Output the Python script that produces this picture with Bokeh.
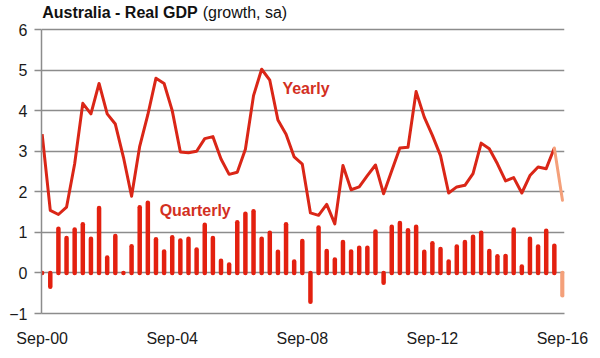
from bokeh.plotting import figure
from bokeh.models import Range1d, FixedTicker, Label, ColumnDataSource
from bokeh.embed import file_html
from bokeh.resources import INLINE

# ---- data (Sep-00 .. Sep-16, quarterly) ----
tick_labels = ["Sep-00", "Sep-04", "Sep-08", "Sep-12", "Sep-16"]
tick_positions = [0, 16, 32, 48, 64]

yearly = [3.42, 1.54, 1.44, 1.62, 2.69, 4.18, 3.92, 4.67, 3.92, 3.67, 2.85, 1.89, 3.12,
          3.90, 4.80, 4.67, 4.00, 2.98, 2.96, 3.00, 3.31, 3.36, 2.81, 2.43, 2.48, 3.05,
          4.37, 5.02, 4.75, 3.77, 3.42, 2.86, 2.68, 1.48, 1.42, 1.69, 1.21, 2.65, 2.05,
          2.12, 2.40, 2.66, 1.95, 2.52, 3.08, 3.10, 4.47, 3.84, 3.39, 2.89, 1.97, 2.12,
          2.16, 2.45, 3.20, 3.06, 2.69, 2.27, 2.35, 1.97, 2.40, 2.61, 2.57, 3.08, 1.79]

quarterly = [0.00, -0.34, 1.09, 0.86, 1.07, 1.20, 0.84, 1.60, 0.38, 0.91, 0.00, 0.66, 1.62,
             1.73, 0.83, 0.53, 0.88, 0.80, 0.84, 0.58, 1.19, 0.86, 0.30, 0.21, 1.25, 1.46,
             1.52, 0.84, 0.99, 0.52, 1.20, 0.28, 0.79, -0.71, 1.12, 0.54, 0.33, 0.76, 0.53,
             0.62, 0.62, 1.02, -0.24, 1.14, 1.23, 1.05, 1.14, 0.52, 0.73, 0.59, 0.28, 0.65,
             0.76, 0.89, 0.99, 0.54, 0.41, 0.42, 1.07, 0.16, 0.84, 0.65, 1.04, 0.67, -0.55]

y_ticks = list(range(-1, 7))

n = len(yearly)
idx = list(range(n))
last = n - 1  # latest quarter highlighted

RED_BAR = "#e3200f"
RED_LINE = "#da2617"
HILITE = "#f4a07a"
GRID = "#8c8c8c"
FONT = "Liberation Sans"

# frame reaches the top edge so that the title (a Label) is drawn inside it
p = figure(width=600, height=358, x_range=Range1d(-0.08, 64.25), y_range=Range1d(-1, 6.715),
           output_backend="svg", toolbar_location=None, title=None,
           min_border_left=41, min_border_right=36, min_border_top=0, min_border_bottom=45)
p.outline_line_color = None
p.background_fill_color = "white"

# grid
p.xgrid.visible = False
p.ygrid.ticker = FixedTicker(ticks=y_ticks)
p.ygrid.grid_line_color = GRID
p.ygrid.grid_line_width = 1.5

# axes
p.yaxis.ticker = FixedTicker(ticks=y_ticks)
p.yaxis.bounds = (min(y_ticks), max(y_ticks))
p.yaxis.axis_line_color = GRID
p.yaxis.axis_line_width = 1.5
p.yaxis.major_tick_line_color = GRID
p.yaxis.major_tick_line_width = 1.5
p.yaxis.major_tick_out = 7
p.yaxis.major_tick_in = 0
p.yaxis.minor_tick_line_color = None
p.yaxis.major_label_text_font = FONT
p.yaxis.major_label_text_font_size = "16px"
p.yaxis.major_label_text_color = "#1a1a1a"
p.yaxis.major_label_standoff = 7

p.xaxis.ticker = FixedTicker(ticks=tick_positions)
p.xaxis.major_label_overrides = {t: l for t, l in zip(tick_positions, tick_labels)}
p.xaxis.axis_line_color = GRID
p.xaxis.axis_line_width = 1.5
p.xaxis.major_tick_line_color = None
p.xaxis.minor_tick_line_color = None
p.xaxis.major_label_text_font = FONT
p.xaxis.major_label_text_font_size = "16px"
p.xaxis.major_label_text_color = "#1a1a1a"
p.xaxis.major_label_standoff = 10

# quarterly bars (rounded columns)
bars = ColumnDataSource(dict(x=idx[:last], y0=[0] * last, y1=quarterly[:last]))
p.segment(x0="x", y0="y0", x1="x", y1="y1", source=bars, line_color=RED_BAR,
          line_width=4.5, line_cap="round")
bars_hi = ColumnDataSource(dict(x=idx[last:], y0=[0], y1=quarterly[last:]))
p.segment(x0="x", y0="y0", x1="x", y1="y1", source=bars_hi, line_color=HILITE,
          line_width=4.5, line_cap="round")

# yearly line
p.line(idx[:last], yearly[:last], line_color=RED_LINE, line_width=3, line_join="round")
p.line(idx[last - 1:], yearly[last - 1:], line_color=HILITE, line_width=3, line_cap="round")

# series labels
p.add_layout(Label(x=29.55, y=4.55, text="Yearly", text_font=FONT, text_font_size="16px",
                   text_font_style="bold", text_color="#d3301f", text_baseline="middle"))
p.add_layout(Label(x=14.45, y=1.53, text="Quarterly", text_font=FONT, text_font_size="16px",
                   text_font_style="bold", text_color="#d3301f", text_baseline="middle"))

# title
p.add_layout(Label(x=0, y=6.42, text="Australia - Real GDP", text_font=FONT,
                   text_font_size="16px", text_font_style="bold", text_color="#111111",
                   text_baseline="middle"))
p.add_layout(Label(x=19.75, y=6.42, text="(growth, sa)", text_font=FONT,
                   text_font_size="16px", text_color="#111111", text_baseline="middle"))

open("out.html", "w").write(file_html(p, INLINE))
